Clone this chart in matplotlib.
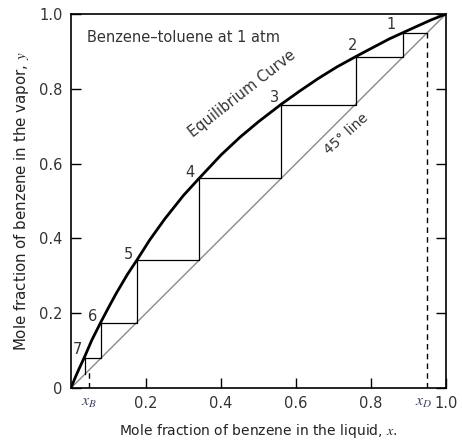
import matplotlib
matplotlib.use("Agg")
import matplotlib.pyplot as plt
import matplotlib.transforms as mtransforms

# ---- data ----
eq_x = [0.0, 0.01, 0.02, 0.037, 0.055, 0.079, 0.10, 0.12, 0.15, 0.177, 0.21,
        0.25, 0.30, 0.342, 0.40, 0.45, 0.50, 0.561, 0.61, 0.66, 0.71, 0.761,
        0.81, 0.85, 0.885, 0.92, 0.96, 1.0]
eq_y = [0.0, 0.025, 0.048, 0.085, 0.127, 0.175, 0.215, 0.252, 0.303, 0.344, 0.396,
        0.452, 0.515, 0.561, 0.623, 0.670, 0.712, 0.759, 0.794, 0.828, 0.859, 0.887,
        0.913, 0.934, 0.950, 0.966, 0.984, 1.0]

stage_labels = ["1", "2", "3", "4", "5", "6", "7"]
stage_x = [0.885, 0.761, 0.561, 0.342, 0.177, 0.079, 0.037]
stage_y = [0.949, 0.885, 0.757, 0.561, 0.342, 0.175, 0.080]

x_D = 0.95
x_B = 0.048

y_ticks = [0.0, 0.2, 0.4, 0.6, 0.8, 1.0]
y_ticklabels = ["0", "0.2", "0.4", "0.6", "0.8", "1.0"]
x_ticks = [0.2, 0.4, 0.6, 0.8, 1.0]
x_ticklabels = ["0.2", "0.4", "0.6", "0.8", "1.0"]
x_special = [x_B, x_D]
x_special_labels = [r"$x_B$", r"$x_D$"]

plt.rcParams["font.family"] = ["DejaVu Sans"]
plt.rcParams["mathtext.fontset"] = "stix"

fig = plt.figure(figsize=(4.62, 4.45), dpi=100)
ax = fig.add_axes([71 / 462, 57 / 445, 375 / 462, 374 / 445])

txt = "#333333"

# 45 degree line
ax.plot([0, 1], [0, 1], color="#8a8a8a", lw=1.0, zorder=2)

# equilibrium curve
ax.plot(eq_x, eq_y, color="black", lw=2.0, solid_capstyle="round",
        solid_joinstyle="round", zorder=4)

# staircase
sx = [x_D]
sy = [stage_y[0]]
for i, (xs, ys) in enumerate(zip(stage_x, stage_y)):
    sx += [xs, xs]
    nxt = stage_y[i + 1] if i + 1 < len(stage_y) else xs
    sy += [ys, nxt]
ax.plot(sx, sy, color="black", lw=0.9, zorder=3)

# dashed verticals at x_D and x_B
ax.plot([x_D, x_D], [0, stage_y[0]], color="black", lw=1.0, ls=(0, (4, 3)), zorder=3)
ax.plot([x_B, x_B], [0, x_B], color="black", lw=1.0, ls=(0, (4, 3)), zorder=3)

# stage labels
label_off = [(-0.032, 0.024), (-0.010, 0.030), (-0.019, 0.020), (-0.026, 0.016),
             (-0.025, 0.015), (-0.022, 0.017), (-0.021, 0.023)]
for lab, xs, ys, (dx, dy) in zip(stage_labels, stage_x, stage_y, label_off):
    ax.text(xs + dx, ys + dy, lab, fontsize=10.5, color=txt, ha="center", va="center")

ax.text(0.043, 0.936, "Benzene–toluene at 1 atm", fontsize=10.5, color=txt,
        ha="left", va="center")
ax.text(0.455, 0.786, "Equilibrium Curve", fontsize=10.5, color=txt,
        ha="center", va="center", rotation=38, rotation_mode="anchor")
ax.text(0.733, 0.679, "45° line", fontsize=10, color=txt,
        ha="center", va="center", rotation=42, rotation_mode="anchor")

ax.set_xlim(0, 1)
ax.set_ylim(0, 1)

ax.set_yticks(y_ticks)
ax.set_yticklabels(y_ticklabels)
ax.set_xticks(x_ticks)
ax.set_xticklabels(x_ticklabels)
ax.set_xticks(x_special, minor=True)
ax.set_xticklabels(x_special_labels, minor=True, fontsize=11.5)

ax.tick_params(axis="both", which="major", direction="in", length=7, width=1.0,
               labelsize=10.5, labelcolor=txt, pad=6)
ax.tick_params(axis="y", which="major", right=True, labelright=False)
ax.tick_params(axis="x", which="minor", length=0, labelcolor="#444466", pad=5)

# nudge the x_D label slightly left so it clears "1.0"
lbl = ax.get_xticklabels(minor=True)[1]
lbl.set_transform(lbl.get_transform() +
                  mtransforms.ScaledTranslation(-4 / 100, 0, fig.dpi_scale_trans))

for s in ax.spines.values():
    s.set_linewidth(1.2)

ax.set_xlabel("Mole fraction of benzene in the liquid, $x$.", fontsize=10,
              color="#222222", labelpad=8)
ax.set_ylabel("Mole fraction of benzene in the vapor, $y$", fontsize=10.8,
              color="#222222", labelpad=6)

fig.savefig("out.png", dpi=100)
